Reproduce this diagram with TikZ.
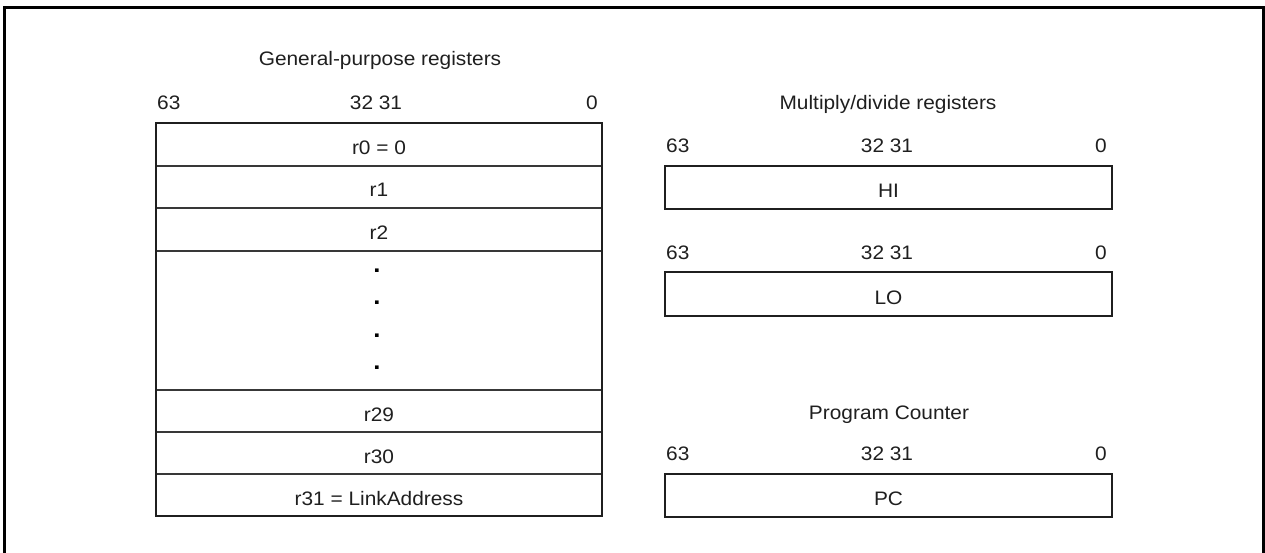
\documentclass[tikz,border=0pt]{standalone}
\usepackage{fontspec}
\setmainfont{Liberation Sans}[FakeStretch=1.07]
\begin{document}
\begin{tikzpicture}[x=1pt,y=-1pt]
\tikzset{
  txt/.style={inner sep=0pt, anchor=base, text=black!88, font=\fontsize{19.5}{23}\selectfont},
  dotlbl/.style={inner sep=0pt, anchor=base, text=black, font=\fontsize{24}{26}\selectfont\bfseries},
  regbox/.style={draw=black!88, line width=2.4pt, minimum width=446pt, inner sep=0pt},
  row/.style={minimum width=446pt, inner sep=0pt},
  rowline/.style={draw=black!78, line width=1.6pt},
  framestyle/.style={draw=black, line width=2.5pt}
}
\useasboundingbox (0,0) rectangle (1265,553);
% outer frame (open at the bottom)
\coordinate (f1) at (4.5,553);
\coordinate (f2) at (4.5,7.5);
\coordinate (f3) at (1263.5,7.5);
\coordinate (f4) at (1263.5,553);
\draw[framestyle] (f1) -- (f2) -- (f3) -- (f4);

% ---------- General-purpose registers ----------
\node[txt] (gptitle) at (380,66) {General-purpose registers};
\node[txt, anchor=base west] (g63) at (157,110) {63};
\node[txt] (g3231) at (376,110) {32 31};
\node[txt, anchor=base east] (g0) at (598,110) {0};

\node[row, minimum height=43pt] (r0) at (379,144.5) {};
\node[row, minimum height=42pt] (r1) at (379,187) {};
\node[row, minimum height=43pt] (r2) at (379,229.5) {};
\node[row, minimum height=139pt] (rd) at (379,320.5) {};
\node[row, minimum height=42pt] (r29) at (379,411) {};
\node[row, minimum height=42pt] (r30) at (379,453) {};
\node[row, minimum height=42pt] (r31) at (379,495) {};

\draw[rowline] (r0.south west) -- (r0.south east);
\draw[rowline] (r1.south west) -- (r1.south east);
\draw[rowline] (r2.south west) -- (r2.south east);
\draw[rowline] (rd.south west) -- (rd.south east);
\draw[rowline] (r29.south west) -- (r29.south east);
\draw[rowline] (r30.south west) -- (r30.south east);

\node[regbox, minimum height=393pt] (gpr) at (379,319.5) {};

\node[txt] (t0) at ([yshift=-10.5pt]r0.center) {r0 = 0};
\node[txt] (t1) at ([yshift=-10pt]r1.center) {r1};
\node[txt] (t2) at ([yshift=-10pt]r2.center) {r2};
\node[txt] (t29) at ([yshift=-10pt]r29.center) {r29};
\node[txt] (t30) at ([yshift=-10pt]r30.center) {r30};
\node[txt] (t31) at ([yshift=-10pt]r31.center) {r31 = LinkAddress};

\node[dotlbl] (d1) at (377,272.8) {.};
\node[dotlbl] (d2) at (377,304.8) {.};
\node[dotlbl] (d3) at (377,337.8) {.};
\node[dotlbl] (d4) at (377,369.8) {.};

% ---------- Multiply/divide registers ----------
\node[txt] (mdtitle) at (888,110) {Multiply/divide registers};

\node[txt, anchor=base west] (h63) at (666,153) {63};
\node[txt] (h3231) at (887,153) {32 31};
\node[txt, anchor=base east] (h0) at (1107,153) {0};
\node[regbox, minimum width=447pt, minimum height=43pt] (hi) at (888.5,187.5) {};
\node[txt] (hitext) at ([yshift=-10pt]hi.center) {HI};

\node[txt, anchor=base west] (l63) at (666,259) {63};
\node[txt] (l3231) at (887,259) {32 31};
\node[txt, anchor=base east] (l0) at (1107,259) {0};
\node[regbox, minimum width=447pt, minimum height=44pt] (lo) at (888.5,294) {};
\node[txt] (lotext) at ([yshift=-10pt]lo.center) {LO};

% ---------- Program Counter ----------
\node[txt] (pctitle) at (889,419) {Program Counter};
\node[txt, anchor=base west] (p63) at (666,460) {63};
\node[txt] (p3231) at (887,460) {32 31};
\node[txt, anchor=base east] (p0) at (1107,460) {0};
\node[regbox, minimum width=447pt, minimum height=43pt] (pc) at (888.5,495.5) {};
\node[txt] (pctext) at ([yshift=-10pt]pc.center) {PC};
\end{tikzpicture}
\end{document}
